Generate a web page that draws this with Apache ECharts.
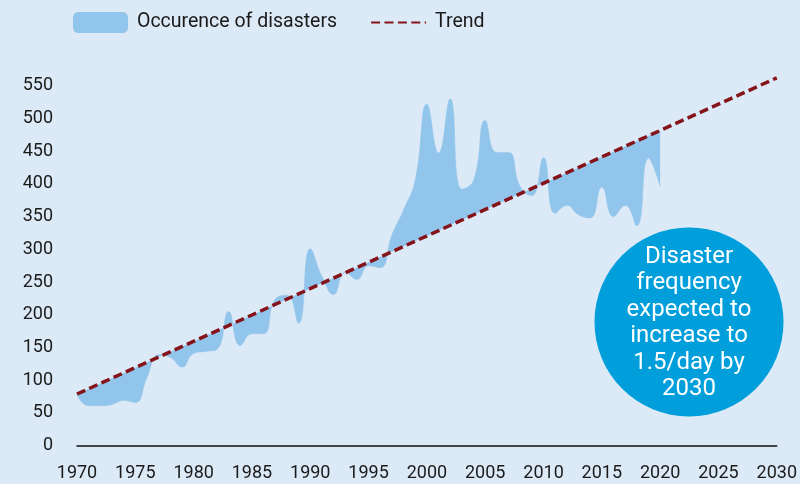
<!DOCTYPE html>
<html>
<head>
<meta charset="utf-8">
<script src="https://cdn.jsdelivr.net/npm/echarts@6/dist/echarts.min.js"></script>
<style>
html,body{margin:0;padding:0;background:#dce9f6;}
#chart{width:800px;height:484px;}
</style>
</head>
<body>
<div id="chart"></div>
<script>
// ---- data ----
const years = [1970,1971,1972,1973,1974,1975,1976,1977,1978,1979,
               1980,1981,1982,1983,1984,1985,1986,1987,1988,1989,
               1990,1991,1992,1993,1994,1995,1996,1997,1998,1999,
               2000,2001,2002,2003,2004,2005,2006,2007,2008,2009,
               2010,2011,2012,2013,2014,2015,2016,2017,2018,2019,2020];
const disasters = [78,61,61,63,69,66,104,139,135,120,
                   141,144,147,205,153,171,171,224,230,187,
                   301,259,231,265,254,275,272,322,360,406,
                   522,447,530,392,405,497,448,448,396,382,
                   440,355,367,353,348,395,350,367,336,439,396];
const trendYears = [1970, 2030];
const trendValues = [79, 562];
const yTicks = [0,50,100,150,200,250,300,350,400,450,500,550];
const xTicks = [1970,1975,1980,1985,1990,1995,2000,2005,2010,2015,2020,2025,2030];
const calloutText = 'Disaster\nfrequency\nexpected to\nincrease to\n1.5/day by\n2030';

// category axis: every year from first to last tick
const axisYears = [];
for (let y = xTicks[0]; y <= xTicks[xTicks.length-1]; y++) axisYears.push(String(y));

// trend line value at a given year (the straight line through the two trend points)
function trendAt(y){
  return trendValues[0] + (trendValues[1]-trendValues[0])*(y-trendYears[0])/(trendYears[1]-trendYears[0]);
}
const baseData = years.map(y => trendAt(y));
const deltaData = years.map((y,i) => disasters[i] - trendAt(y));
const trendData = trendYears.map((y,i) => [String(y), trendValues[i]]);

const FONT = 'Roboto, "Noto Sans", sans-serif';
const chart = echarts.init(document.getElementById('chart'), null, {renderer:'canvas'});
chart.setOption({
  backgroundColor: '#dce9f6',
  animation: false,
  textStyle: {fontFamily: FONT},
  legend: {
    left: 68, top: 7,
    itemWidth: 55, itemHeight: 21, itemGap: 33,
    textStyle: {fontSize: 19.5, color: '#1a1a1a', fontFamily: FONT, padding:[0,0,0,4]},
    data: [
      {name:'Occurence of disasters', icon:'roundRect'},
      {name:'Trend', itemStyle:{opacity:0}}
    ]
  },
  grid: {left: 77, right: 20, top: 72.6, bottom: 38.3},
  xAxis: {
    type: 'category', data: axisYears, boundaryGap: false,
    axisLine: {show: true, lineStyle: {color: '#111', width: 1.5}},
    axisTick: {show: false},
    splitLine: {show: false},
    axisLabel: {fontSize: 18, color: '#1a1a1a', margin: 19, fontFamily: FONT,
      interval: (idx, val) => xTicks.indexOf(Number(val)) >= 0}
  },
  yAxis: {
    type: 'value', min: 0, max: 570, interval: 50,
    axisLine: {show: false}, axisTick: {show: false}, splitLine: {show: false},
    axisLabel: {fontSize: 18, color: '#1a1a1a', margin: 24, fontFamily: FONT,
      showMaxLabel: false,
      formatter: v => yTicks.indexOf(v) >= 0 ? String(v) : ''}
  },
  series: [
    {
      name: 'base', type: 'line', stack: 'fill', stackStrategy: 'all',
      data: baseData, symbol: 'none', silent: true,
      lineStyle: {width: 0, opacity: 0}, z: 1
    },
    {
      name: 'Occurence of disasters', type: 'line', stack: 'fill', stackStrategy: 'all',
      data: deltaData, smooth: 0.5, symbol: 'none', color: '#92c5eb',
      lineStyle: {width: 0.5, color: '#92c5eb'},
      areaStyle: {color: '#92c5eb', opacity: 1}, z: 2
    },
    {
      name: 'Trend', type: 'line',
      data: trendData,
      symbol: 'none', color: '#85141a',
      lineStyle: {color: '#85141a', width: 3.5, type: [9,4.4]}, z: 3
    }
  ],
  graphic: [
    {type:'circle', shape:{cx:689, cy:322, r:94.5}, style:{fill:'#009edb'}, z: 10},
    {type:'text', x:689, y:323, z: 11,
     style:{text: calloutText, fill:'#ffffff', font:'24px ' + FONT,
            align:'center', verticalAlign:'middle', lineHeight:26.5}}
  ]
});
</script>
</body>
</html>
